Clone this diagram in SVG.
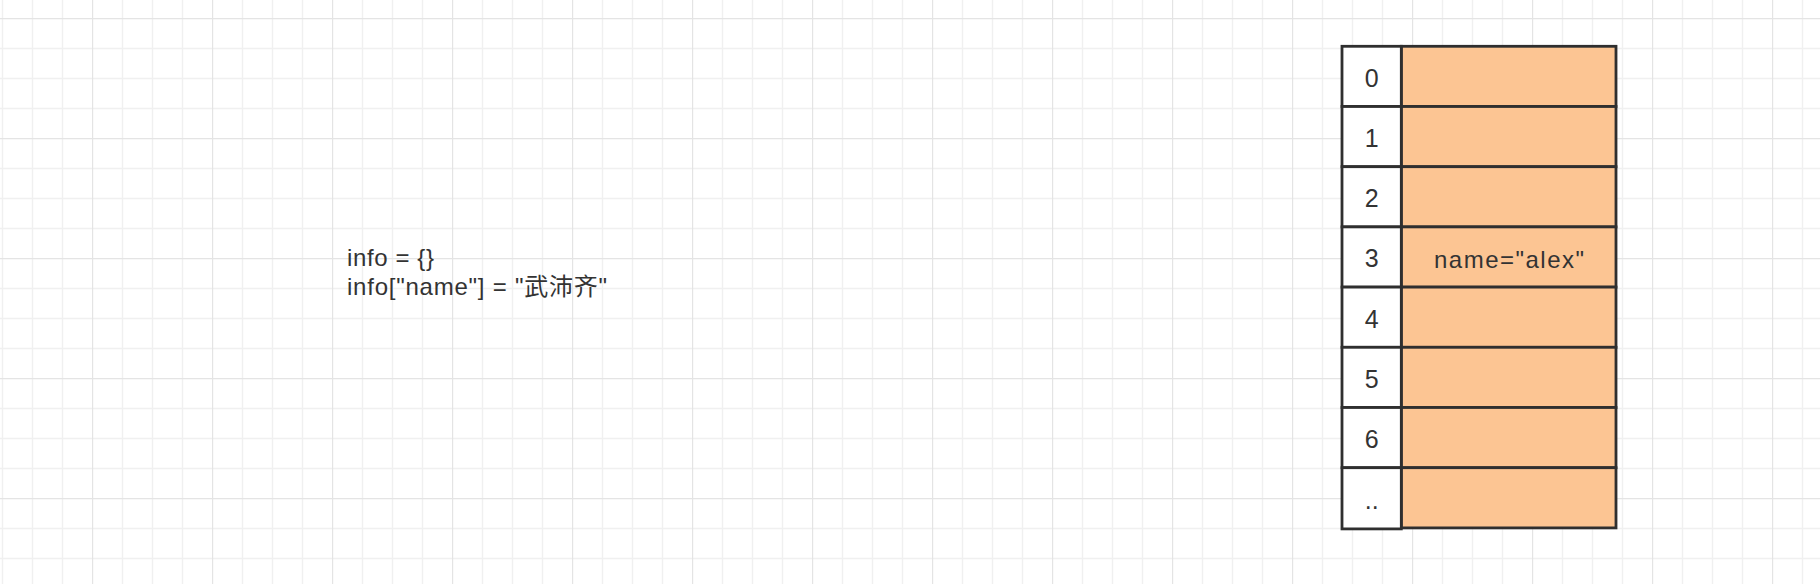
<svg xmlns="http://www.w3.org/2000/svg" width="1820" height="584" viewBox="0 0 1820 584">
  <defs>
    <pattern id="grid" x="-28" y="18" width="120" height="120" patternUnits="userSpaceOnUse">
      <path d="M30.5 0V120M60.5 0V120M90.5 0V120M0 30.5H120M0 60.5H120M0 90.5H120" stroke="#f0f0f0" stroke-width="1.4" fill="none"/>
      <path d="M0.5 0V120M0 0.5H120" stroke="#e4e4e4" stroke-width="1.4" fill="none"/>
    </pattern>
  </defs>
  <style>
    .idx { fill: #ffffff; stroke: #2f2f2f; stroke-width: 2.8; }
    .val { fill: #fcc593; stroke: #2f2f2f; stroke-width: 2.8; }
    .t { font-family: "Liberation Sans", "Noto Sans CJK SC", sans-serif; font-size: 24px; fill: #333333; }
    .d { font-size: 25px; }
    .c { text-anchor: middle; }
  </style>
  <rect width="1820" height="584" fill="#ffffff"/>
  <rect width="1820" height="584" fill="url(#grid)"/>

  <g id="code">
    <text class="t" x="347" y="265.7" textLength="87" lengthAdjust="spacing">info = {}</text>
    <text class="t" x="347" y="294.5" textLength="260" lengthAdjust="spacing">info["name"] = "武沛齐"</text>
  </g>

  <g id="connectors"></g>

  <g id="val-0"><rect class="val" x="1401.3" y="46.3" width="214.7" height="60.2"/></g>
  <g id="val-1"><rect class="val" x="1401.3" y="106.5" width="214.7" height="60.2"/></g>
  <g id="val-2"><rect class="val" x="1401.3" y="166.7" width="214.7" height="60.2"/></g>
  <g id="val-3"><rect class="val" x="1401.3" y="226.9" width="214.7" height="60.2"/>
    <text class="t c" x="1509" y="268.3" textLength="150" lengthAdjust="spacing">name="alex"</text></g>
  <g id="val-4"><rect class="val" x="1401.3" y="287.1" width="214.7" height="60.2"/></g>
  <g id="val-5"><rect class="val" x="1401.3" y="347.3" width="214.7" height="60.2"/></g>
  <g id="val-6"><rect class="val" x="1401.3" y="407.5" width="214.7" height="60.2"/></g>
  <g id="val-7"><rect class="val" x="1401.3" y="467.7" width="214.7" height="60.2"/></g>

  <g id="idx-0"><rect class="idx" x="1342" y="46.3" width="59.3" height="60.2"/><text class="t d c" x="1371.7" y="86.7">0</text></g>
  <g id="idx-1"><rect class="idx" x="1342" y="106.5" width="59.3" height="60.2"/><text class="t d c" x="1371.7" y="146.9">1</text></g>
  <g id="idx-2"><rect class="idx" x="1342" y="166.7" width="59.3" height="60.2"/><text class="t d c" x="1371.7" y="207.1">2</text></g>
  <g id="idx-3"><rect class="idx" x="1342" y="226.9" width="59.3" height="60.2"/><text class="t d c" x="1371.7" y="267.3">3</text></g>
  <g id="idx-4"><rect class="idx" x="1342" y="287.1" width="59.3" height="60.2"/><text class="t d c" x="1371.7" y="327.5">4</text></g>
  <g id="idx-5"><rect class="idx" x="1342" y="347.3" width="59.3" height="60.2"/><text class="t d c" x="1371.7" y="387.7">5</text></g>
  <g id="idx-6"><rect class="idx" x="1342" y="407.5" width="59.3" height="60.2"/><text class="t d c" x="1371.7" y="447.9">6</text></g>
  <g id="idx-7"><rect class="idx" x="1342" y="467.7" width="59.3" height="61.2"/><text class="t d c" x="1371.7" y="508.6">..</text></g>
</svg>
